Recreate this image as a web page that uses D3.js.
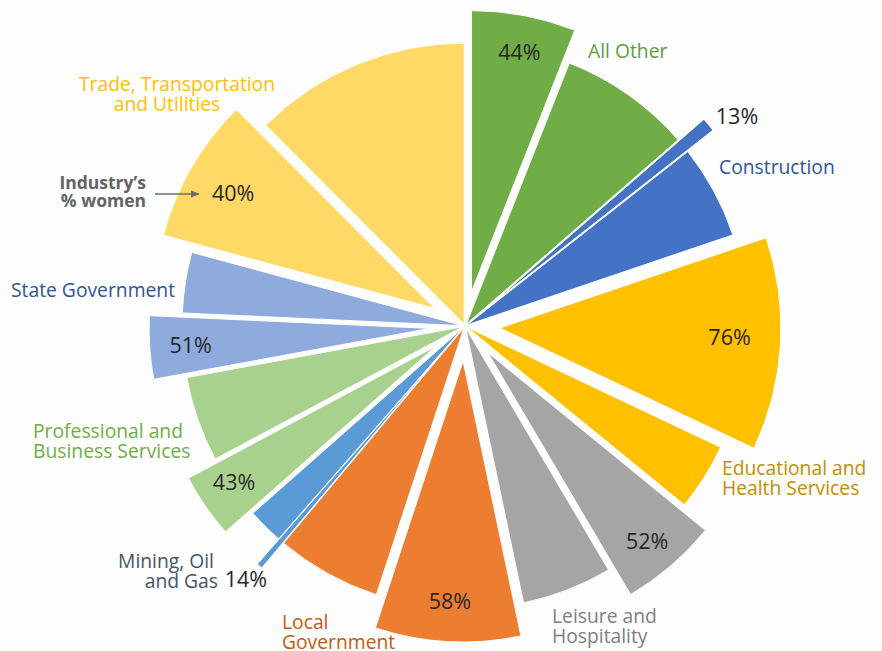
<!DOCTYPE html>
<html>
<head>
<meta charset="utf-8">
<script src="https://cdn.jsdelivr.net/npm/d3@7"></script>
<style>
  body { margin: 0; background: #fdfdfd; }
  svg text { font-family: "Open Sans", "Noto Sans", sans-serif; }
</style>
</head>
<body>
<div id="chart"></div>
<script>
// industries, share of total employment (%), and share of each industry that is women (%)
var industries = ["All Other", "Construction", "Educational and Health Services", "Leisure and Hospitality",
    "Local Government", "Mining, Oil and Gas", "Professional and Business Services", "State Government",
    "Trade, Transportation and Utilities"];
var employmentShare = [13.6, 6.2, 16.1, 10.8, 14.4, 2.4, 8.6, 7.1, 20.8];
var pctWomen = [44, 13, 76, 52, 58, 14, 43, 51, 40];

var colors = ["#70AD47", "#4472C4", "#FFC000", "#A5A5A5", "#ED7D31", "#5B9BD5", "#A9D18E", "#8FAADC", "#FFD966"];

var width = 882, height = 651;
var cx = 465, cy = 326;
var R = 281, explodeWomen = 35, explodeMen = 2;

var svg = d3.select("#chart").append("svg")
    .attr("width", width)
    .attr("height", height);

svg.append("rect").attr("width", width).attr("height", height).attr("fill", "#fdfdfd");

var g = svg.append("g").attr("transform", "translate(" + cx + "," + cy + ")");

// two slices per industry: women first (clockwise), then men
var slices = [];
industries.forEach(function (name, i) {
    slices.push({ industry: i, sex: "women", value: employmentShare[i] * pctWomen[i] / 100 });
    slices.push({ industry: i, sex: "men", value: employmentShare[i] * (100 - pctWomen[i]) / 100 });
});

var pie = d3.pie().sort(null).value(function (d) { return d.value; });
var arcs = pie(slices);
var arc = d3.arc().innerRadius(0).outerRadius(R);

function mid(d) { return (d.startAngle + d.endAngle) / 2; }

g.selectAll("path.slice")
    .data(arcs)
    .enter().append("path")
    .attr("class", "slice")
    .attr("d", arc)
    .attr("fill", function (d) { return colors[d.data.industry]; })
    .attr("stroke", "#fdfdfd")
    .attr("stroke-width", 1)
    .attr("transform", function (d) {
        var e = d.data.sex === "women" ? explodeWomen : explodeMen;
        var m = mid(d);
        return "translate(" + (e * Math.sin(m)) + "," + (-e * Math.cos(m)) + ")";
    });

// % women labels: inside the wide slices, just past the tip for thin ones
var pctNudge = { 0: [3, -4], 1: [10, 6], 2: [-10, -5], 3: [3, 6], 5: [2, -6], 6: [-5, -1], 8: [6, 4] };

function pctPos(d) {
    var thin = d.endAngle - d.startAngle < 0.1;
    var m = mid(d), r = thin ? 340 : 275;
    var n = pctNudge[d.data.industry] || [0, 0];
    return [r * Math.sin(m) + n[0], -r * Math.cos(m) + n[1]];
}

g.selectAll("text.pct")
    .data(arcs.filter(function (d) { return d.data.sex === "women"; }))
    .enter().append("text")
    .attr("class", "pct")
    .attr("x", function (d) { return pctPos(d)[0]; })
    .attr("y", function (d) { return pctPos(d)[1]; })
    .attr("text-anchor", "middle")
    .attr("dominant-baseline", "central")
    .style("font-size", "21.5px")
    .style("fill", "#262626")
    .text(function (d) { return pctWomen[d.data.industry] + "%"; });

// industry name labels (page coordinates)
var nameLabels = [
    { lines: [["All Other", 588]], y: 50, anchor: "start", color: "#5E9C3F" },
    { lines: [["Construction", 719]], y: 166, anchor: "start", color: "#2F5597" },
    { lines: [["Educational and", 722], ["Health Services", 722]], y: 467, anchor: "start", color: "#BF9000" },
    { lines: [["Leisure and", 552], ["Hospitality", 552]], y: 615, anchor: "start", color: "#7F7F7F" },
    { lines: [["Local", 282], ["Government", 282]], y: 621, anchor: "start", color: "#C55A11" },
    { lines: [["Mining, Oil", 214], ["and Gas", 218]], y: 560, anchor: "end", color: "#44546A" },
    { lines: [["Professional and", 33], ["Business Services", 33]], y: 430, anchor: "start", color: "#70AD47" },
    { lines: [["State Government", 11]], y: 289, anchor: "start", color: "#2F5597" },
    { lines: [["Trade, Transportation", 177], ["and Utilities", 167]], y: 83, anchor: "middle", color: "#FFC000" }
];

nameLabels.forEach(function (lab) {
    lab.lines.forEach(function (ln, j) {
        svg.append("text")
            .attr("x", ln[1])
            .attr("y", lab.y + j * 20.5)
            .attr("text-anchor", lab.anchor)
            .attr("dominant-baseline", "central")
            .style("font-size", "19.3px")
            .style("fill", lab.color)
            .text(ln[0]);
    });
});

// key annotation
svg.append("text").attr("x", 146).attr("y", 182).attr("text-anchor", "end")
    .attr("dominant-baseline", "central")
    .style("font-size", "17.5px").style("font-weight", "bold").style("fill", "#636363")
    .text("Industry\u2019s");
svg.append("text").attr("x", 146).attr("y", 200).attr("text-anchor", "end")
    .attr("dominant-baseline", "central")
    .style("font-size", "17.5px").style("font-weight", "bold").style("fill", "#636363")
    .text("% women");

svg.append("defs").append("marker")
    .attr("id", "arrow").attr("viewBox", "0 0 10 10")
    .attr("refX", 9).attr("refY", 5)
    .attr("markerWidth", 6).attr("markerHeight", 6)
    .attr("orient", "auto")
    .append("path").attr("d", "M0,1 L10,5 L0,9 z").attr("fill", "#6b6b6b");

svg.append("line")
    .attr("x1", 155).attr("y1", 194).attr("x2", 199).attr("y2", 194)
    .attr("stroke", "#6b6b6b").attr("stroke-width", 1.5)
    .attr("marker-end", "url(#arrow)");
</script>
</body>
</html>
